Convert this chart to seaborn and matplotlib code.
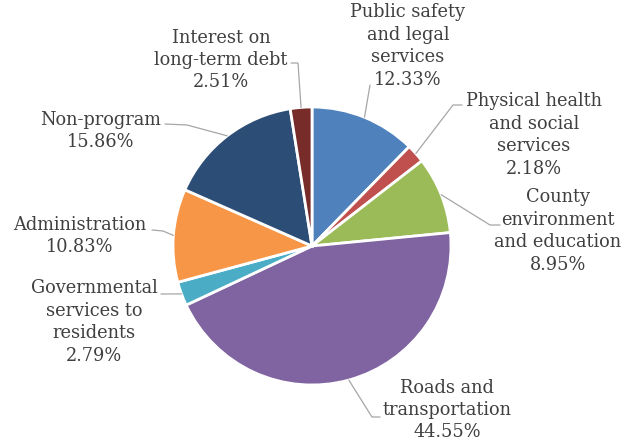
import numpy as np
import matplotlib
matplotlib.use('Agg')
import matplotlib.pyplot as plt
import seaborn as sns

# data
categories = ['Public safety\nand legal\nservices',
              'Physical health\nand social\nservices',
              'County\nenvironment\nand education',
              'Roads and\ntransportation',
              'Governmental\nservices to\nresidents',
              'Administration',
              'Non-program',
              'Interest on\nlong-term debt']
shares = [12.33, 2.18, 8.95, 44.55, 2.79, 10.83, 15.86, 2.51]
colors = ['#4f81bd', '#c0504d', '#9bbb59', '#8064a2',
          '#4bacc6', '#f79646', '#2c4d75', '#772c2a']

# label layout in pixels (y measured from top): text centre, elbow, line end
label_pos = [(408, 46), (534, 135), (558, 231), (447, 410),
             (94, 322), (80, 236), (101, 131), (221, 60)]
elbows = [(370, 85), (453, 105), (490, 225), (372, 417),
          (166, 294), (163, 231), (187, 125), (298, 63)]
ends = [(370, 85), (462, 105), (500, 225), (380, 417),
        (161, 294), (152, 230), (165, 124), (291, 63)]

sns.set_theme(style='white')
plt.rcParams['font.family'] = ['DejaVu Serif']

W, H = 637, 445
fig = plt.figure(figsize=(W / 100, H / 100), dpi=100)
ax = fig.add_axes([0, 0, 1, 1])

cx, cy, r = 312, H - 246, 139
wedges, _ = ax.pie(shares, colors=colors, startangle=90, counterclock=False,
                   center=(cx, cy), radius=r, frame=True,
                   wedgeprops=dict(edgecolor='white', linewidth=2))
ax.set_xlim(0, W)
ax.set_ylim(0, H)
ax.set_aspect('equal')
ax.axis('off')

for w, name, val, (tx, ty), (ex, ey), (hx, hy) in zip(wedges, categories, shares,
                                                      label_pos, elbows, ends):
    mid = np.deg2rad((w.theta1 + w.theta2) / 2)
    px = cx + r * np.cos(mid)
    py = cy + r * np.sin(mid)
    ax.plot([px, ex, hx], [py, H - ey, H - hy], color='#a6a6a6', lw=0.9,
            solid_joinstyle='miter')
    ax.text(tx, H - ty, f'{name}\n{val:.2f}%', ha='center', va='center',
            fontsize=12.8, color='#404040', linespacing=1.32)

fig.savefig('out.png', dpi=100)
